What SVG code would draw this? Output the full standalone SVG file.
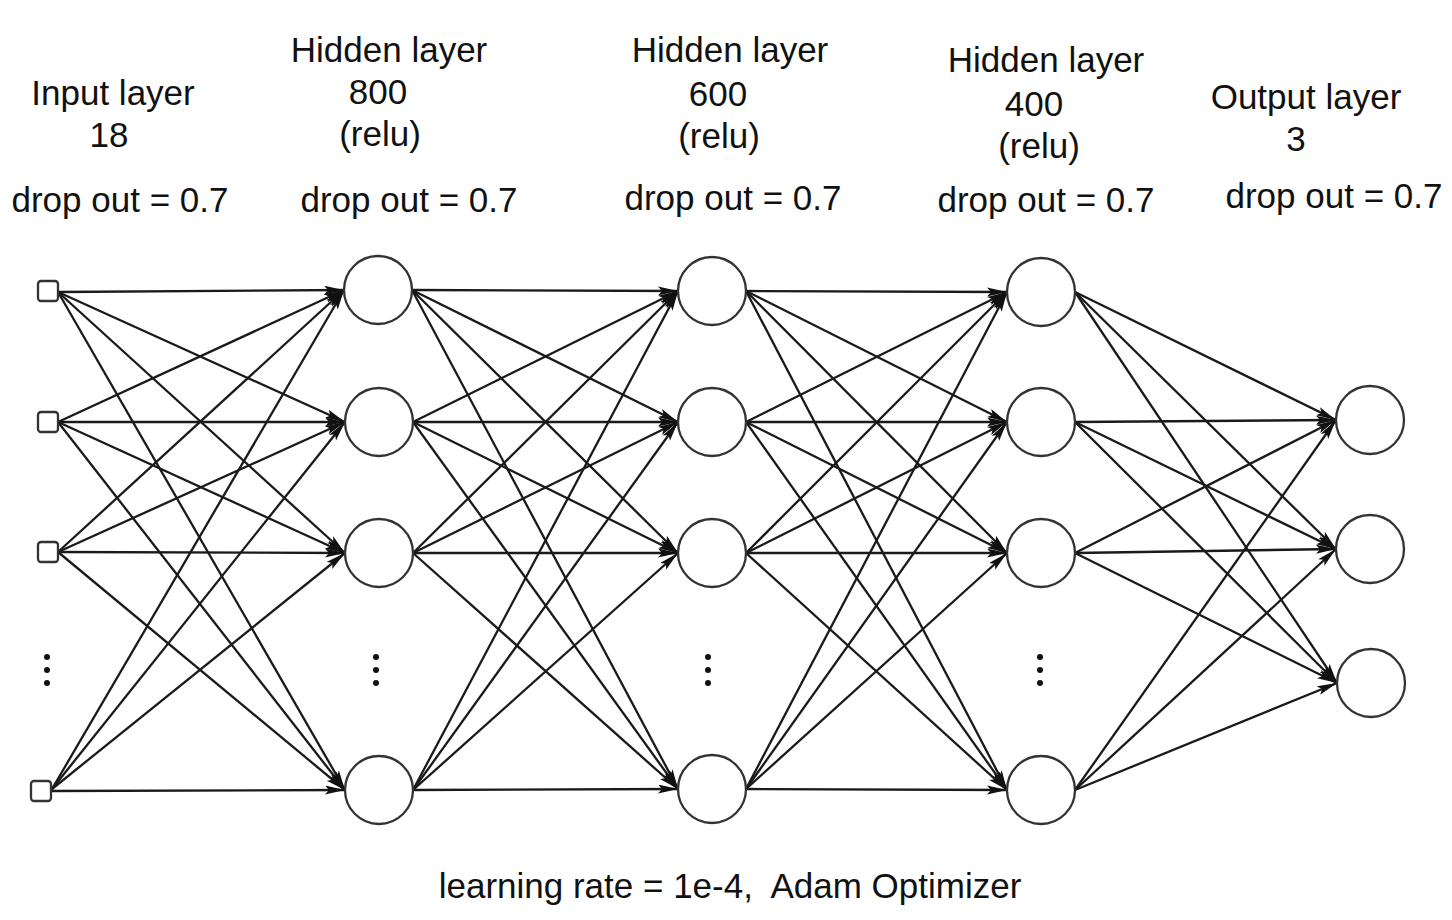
<svg xmlns="http://www.w3.org/2000/svg" width="1452" height="920" viewBox="0 0 1452 920">
<style>
text{font-family:"Liberation Sans",Arial,sans-serif;font-size:35px;fill:#111;text-anchor:middle}
.e{stroke:#1a1a1a;stroke-width:2.3;fill:none;marker-end:url(#ah)}
.n{fill:#fff;stroke:#333;stroke-width:2.3}
.d{fill:#111}
</style>
<defs>
<marker id="ah" markerUnits="userSpaceOnUse" markerWidth="22" markerHeight="10" refX="20" refY="4.5" orient="auto">
<path d="M0,0 L20,4.5 L0,9 L4,4.5 z" fill="#111"/>
</marker>
</defs>
<rect width="1452" height="920" fill="#fff"/>
<g id="connectors">
<line class="e" x1="58" y1="292" x2="344" y2="290"/>
<line class="e" x1="58" y1="292" x2="345" y2="422"/>
<line class="e" x1="58" y1="292" x2="345" y2="553"/>
<line class="e" x1="58" y1="292" x2="345" y2="790"/>
<line class="e" x1="58" y1="422" x2="344" y2="290"/>
<line class="e" x1="58" y1="422" x2="345" y2="422"/>
<line class="e" x1="58" y1="422" x2="345" y2="553"/>
<line class="e" x1="58" y1="422" x2="345" y2="790"/>
<line class="e" x1="58" y1="552" x2="344" y2="290"/>
<line class="e" x1="58" y1="552" x2="345" y2="422"/>
<line class="e" x1="58" y1="552" x2="345" y2="553"/>
<line class="e" x1="58" y1="552" x2="345" y2="790"/>
<line class="e" x1="52" y1="789" x2="344" y2="290"/>
<line class="e" x1="52" y1="789" x2="345" y2="422"/>
<line class="e" x1="52" y1="789" x2="345" y2="553"/>
<line class="e" x1="52" y1="791" x2="345" y2="790"/>
<line class="e" x1="412" y1="290" x2="678" y2="291"/>
<line class="e" x1="412" y1="290" x2="678" y2="422"/>
<line class="e" x1="412" y1="290" x2="678" y2="553"/>
<line class="e" x1="412" y1="290" x2="678" y2="789"/>
<line class="e" x1="413" y1="422" x2="678" y2="291"/>
<line class="e" x1="413" y1="422" x2="678" y2="422"/>
<line class="e" x1="413" y1="422" x2="678" y2="553"/>
<line class="e" x1="413" y1="422" x2="678" y2="789"/>
<line class="e" x1="413" y1="553" x2="678" y2="291"/>
<line class="e" x1="413" y1="553" x2="678" y2="422"/>
<line class="e" x1="413" y1="553" x2="678" y2="553"/>
<line class="e" x1="413" y1="553" x2="678" y2="789"/>
<line class="e" x1="413" y1="790" x2="678" y2="291"/>
<line class="e" x1="413" y1="790" x2="678" y2="422"/>
<line class="e" x1="413" y1="790" x2="678" y2="553"/>
<line class="e" x1="413" y1="790" x2="678" y2="789"/>
<line class="e" x1="746" y1="291" x2="1007" y2="292"/>
<line class="e" x1="746" y1="291" x2="1007" y2="422"/>
<line class="e" x1="746" y1="291" x2="1007" y2="553"/>
<line class="e" x1="746" y1="291" x2="1007" y2="790"/>
<line class="e" x1="746" y1="422" x2="1007" y2="292"/>
<line class="e" x1="746" y1="422" x2="1007" y2="422"/>
<line class="e" x1="746" y1="422" x2="1007" y2="553"/>
<line class="e" x1="746" y1="422" x2="1007" y2="790"/>
<line class="e" x1="746" y1="553" x2="1007" y2="292"/>
<line class="e" x1="746" y1="553" x2="1007" y2="422"/>
<line class="e" x1="746" y1="553" x2="1007" y2="553"/>
<line class="e" x1="746" y1="553" x2="1007" y2="790"/>
<line class="e" x1="746" y1="789" x2="1007" y2="292"/>
<line class="e" x1="746" y1="789" x2="1007" y2="422"/>
<line class="e" x1="746" y1="789" x2="1007" y2="553"/>
<line class="e" x1="746" y1="789" x2="1007" y2="790"/>
<line class="e" x1="1075" y1="292" x2="1336" y2="420"/>
<line class="e" x1="1075" y1="292" x2="1336" y2="549"/>
<line class="e" x1="1075" y1="292" x2="1337" y2="683"/>
<line class="e" x1="1075" y1="422" x2="1336" y2="420"/>
<line class="e" x1="1075" y1="422" x2="1336" y2="549"/>
<line class="e" x1="1075" y1="422" x2="1337" y2="683"/>
<line class="e" x1="1075" y1="553" x2="1336" y2="420"/>
<line class="e" x1="1075" y1="553" x2="1336" y2="549"/>
<line class="e" x1="1075" y1="553" x2="1337" y2="683"/>
<line class="e" x1="1075" y1="790" x2="1336" y2="420"/>
<line class="e" x1="1075" y1="790" x2="1336" y2="549"/>
<line class="e" x1="1075" y1="790" x2="1337" y2="683"/>
</g>
<g id="input-layer">
<rect class="n" x="38" y="281" width="20" height="20" rx="3"/>
<rect class="n" x="38" y="412" width="20" height="20" rx="3"/>
<rect class="n" x="38" y="542" width="20" height="20" rx="3"/>
<rect class="n" x="31" y="781" width="20" height="20" rx="3"/>
<circle class="d" cx="47" cy="657" r="3"/><circle class="d" cx="47" cy="670" r="3"/><circle class="d" cx="47" cy="683" r="3"/>
<text x="113" y="105">Input layer</text>
<text x="109" y="147">18</text>
<text x="120" y="212">drop out = 0.7</text>
</g>
<g id="hidden-layer-1">
<circle class="n" cx="378" cy="290" r="34"/>
<circle class="n" cx="379" cy="422" r="34"/>
<circle class="n" cx="379" cy="553" r="34"/>
<circle class="n" cx="379" cy="790" r="34"/>
<circle class="d" cx="376" cy="657" r="3"/><circle class="d" cx="376" cy="670" r="3"/><circle class="d" cx="376" cy="683" r="3"/>
<text x="389" y="62">Hidden layer</text>
<text x="378" y="104">800</text>
<text x="380" y="146">(relu)</text>
<text x="409" y="212">drop out = 0.7</text>
</g>
<g id="hidden-layer-2">
<circle class="n" cx="712" cy="291" r="34"/>
<circle class="n" cx="712" cy="422" r="34"/>
<circle class="n" cx="712" cy="553" r="34"/>
<circle class="n" cx="712" cy="789" r="34"/>
<circle class="d" cx="708" cy="657" r="3"/><circle class="d" cx="708" cy="670" r="3"/><circle class="d" cx="708" cy="683" r="3"/>
<text x="730" y="62">Hidden layer</text>
<text x="718" y="106">600</text>
<text x="719" y="148">(relu)</text>
<text x="733" y="210">drop out = 0.7</text>
</g>
<g id="hidden-layer-3">
<circle class="n" cx="1041" cy="292" r="34"/>
<circle class="n" cx="1041" cy="422" r="34"/>
<circle class="n" cx="1041" cy="553" r="34"/>
<circle class="n" cx="1041" cy="790" r="34"/>
<circle class="d" cx="1040" cy="657" r="3"/><circle class="d" cx="1040" cy="670" r="3"/><circle class="d" cx="1040" cy="683" r="3"/>
<text x="1046" y="72">Hidden layer</text>
<text x="1034" y="116">400</text>
<text x="1039" y="158">(relu)</text>
<text x="1046" y="212">drop out = 0.7</text>
</g>
<g id="output-layer">
<circle class="n" cx="1370" cy="420" r="34"/>
<circle class="n" cx="1370" cy="549" r="34"/>
<circle class="n" cx="1371" cy="683" r="34"/>
<text x="1306" y="109">Output layer</text>
<text x="1296" y="151">3</text>
<text x="1334" y="208">drop out = 0.7</text>
</g>
<g id="footer">
<text x="730" y="898" xml:space="preserve">learning rate = 1e-4,  Adam Optimizer</text>
</g>
</svg>
